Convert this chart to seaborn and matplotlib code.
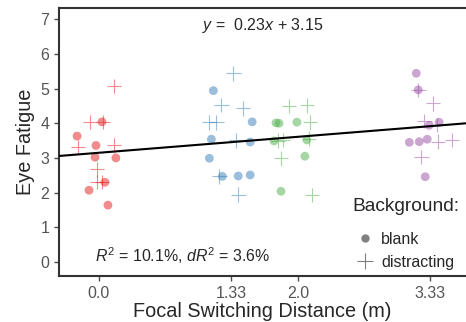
import numpy as np
import pandas as pd
import matplotlib.pyplot as plt
import seaborn as sns
from matplotlib.lines import Line2D

sns.set_style("ticks")
plt.rcParams['font.family'] = ['Liberation Sans', 'DejaVu Sans']
plt.rcParams['mathtext.fontset'] = 'custom'
plt.rcParams['mathtext.rm'] = 'Liberation Sans'
plt.rcParams['mathtext.it'] = 'Liberation Sans:italic'

# data (jittered positions)
red_blank_x = [0.03, -0.22, -0.03, -0.04, 0.17, 0.06, -0.10, 0.09]
red_blank_y = [4.04, 3.63, 3.36, 3.02, 3.00, 2.30, 2.07, 1.64]
red_dist_x = [0.15, -0.09, 0.04, -0.21, 0.15, -0.02, -0.02, 0.03]
red_dist_y = [5.07, 4.04, 4.04, 3.31, 3.36, 2.67, 2.31, 2.31]

blue_blank_x = [1.15, 1.54, 1.13, 1.52, 1.11, 1.24, 1.40, 1.52]
blue_blank_y = [4.94, 4.04, 3.54, 3.46, 2.99, 2.47, 2.48, 2.51]
blue_dist_x = [1.35, 1.23, 1.45, 1.11, 1.18, 1.38, 1.21, 1.40]
blue_dist_y = [5.44, 4.53, 4.43, 4.03, 4.03, 3.51, 2.47, 1.94]

green_blank_x = [1.78, 1.81, 1.99, 1.76, 2.09, 2.07, 1.83]
green_blank_y = [4.01, 4.00, 4.03, 3.49, 3.52, 3.05, 2.04]
green_dist_x = [1.91, 2.09, 2.12, 1.80, 1.85, 2.11, 1.83, 2.14]
green_dist_y = [4.50, 4.52, 4.03, 3.50, 3.52, 3.56, 2.99, 1.93]

purple_blank_x = [3.19, 3.21, 3.32, 3.42, 3.12, 3.22, 3.30, 3.28]
purple_blank_y = [5.44, 4.96, 3.94, 4.03, 3.45, 3.47, 3.54, 2.46]
purple_dist_x = [3.21, 3.36, 3.27, 3.40, 3.41, 3.55, 3.24]
purple_dist_y = [4.96, 4.57, 4.06, 3.95, 3.47, 3.52, 3.03]

distances = ['0.0', '1.33', '2.0', '3.33']
tick_pos = [0.0, 1.33, 2.0, 3.33]
slope, intercept = 0.23, 3.15

groups = [
    ('0.0', red_blank_x, red_blank_y, red_dist_x, red_dist_y),
    ('1.33', blue_blank_x, blue_blank_y, blue_dist_x, blue_dist_y),
    ('2.0', green_blank_x, green_blank_y, green_dist_x, green_dist_y),
    ('3.33', purple_blank_x, purple_blank_y, purple_dist_x, purple_dist_y),
]
rows = []
for name, bx, by, dx, dy in groups:
    for x, y in zip(bx, by):
        rows.append((name, 'blank', x, y))
    for x, y in zip(dx, dy):
        rows.append((name, 'distracting', x, y))
df = pd.DataFrame(rows, columns=['distance', 'background', 'x', 'fatigue'])

palette = dict(zip(distances, ['#e41a1c', '#377eb8', '#4daf4a', '#984ea3']))

fig = plt.figure(figsize=(4.66, 3.22), dpi=100)
ax = fig.add_axes([0.127, 0.143, 0.873, 0.832])

blank = df[df['background'] == 'blank']
dist = df[df['background'] == 'distracting']
sns.scatterplot(data=blank, x='x', y='fatigue', hue='distance', palette=palette,
                marker='o', s=40, alpha=0.5, linewidth=0, ax=ax, legend=False)
sns.scatterplot(data=dist, x='x', y='fatigue', hue='distance', palette=palette,
                marker='+', s=110, alpha=0.5, linewidth=0.8, ax=ax, legend=False)

ax.axline((0, intercept), slope=slope, color='black', lw=1.5, zorder=5)

ax.set_xlim(-0.4, 3.69)
ax.set_ylim(-0.4, 7.32)
ax.set_xticks(tick_pos)
ax.set_xticklabels(distances)
ax.set_yticks(range(8))
ax.tick_params(colors='#4d4d4d', labelsize=11.5, length=3.5, width=1, labelcolor='#555555')
ax.set_xlabel('Focal Switching Distance (m)', fontsize=14.3, labelpad=1)
ax.set_ylabel('Eye Fatigue', fontsize=14.3, labelpad=4)
for side in ['left', 'top', 'bottom']:
    ax.spines[side].set_color('#333333')
    ax.spines[side].set_linewidth(1.5)
ax.spines['right'].set_visible(False)

ax.text(0.5, 0.935, r'$y$ =  0.23$x$ + 3.15', transform=ax.transAxes,
        ha='center', va='center', fontsize=11.5)
ax.text(0.088, 0.075, r'$R^2$ = 10.1%, $dR^2$ = 3.6%', transform=ax.transAxes,
        ha='left', va='center', fontsize=11.4)

handles = [Line2D([], [], marker='o', ls='', color='#808080', markersize=6, mew=0),
           Line2D([], [], marker='+', ls='', color='#808080', markersize=11, mew=0.8)]
leg = ax.legend(handles, ['blank', 'distracting'], title='Background:',
                loc='lower right', bbox_to_anchor=(1.0, 0.0), frameon=False,
                fontsize=11.5, title_fontsize=13.8, handlelength=1.5,
                handletextpad=0.3, labelspacing=0.5, borderaxespad=0.0,
                borderpad=0.4)
leg._legend_box.align = 'left'
leg._legend_box.sep = 12

fig.savefig('out.png', dpi=100)
